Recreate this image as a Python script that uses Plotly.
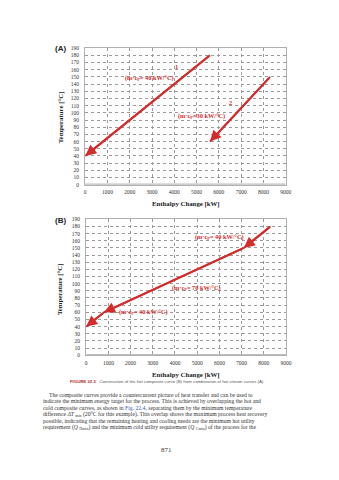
import plotly.graph_objects as go

# ---------------- data ----------------
temp_ticks = list(range(0, 200, 10))
enth_ticks = list(range(0, 10000, 1000))

# Panel A: individual hot streams (start -> end, arrow at end)
a1_h = [5600, 0]
a1_t = [180, 40]
a2_h = [8300, 5600]
a2_t = [150, 60]

# Panel B: hot composite curve
b_h = [8300, 7100, 800, 0]
b_t = [180, 150, 60, 40]

labels_a = [("1", 4090, 165), ("(m·c<sub>P</sub>= 40 kW/°C)", 2890, 149),
            ("2", 6520, 115), ("(m·c<sub>P</sub>=30 kW/°C)", 5230, 96)]
labels_b = [("(m·c<sub>P</sub>= 40 kW/°C)", 6010, 165),
            ("(m·c<sub>P</sub>= 70 kW/°C)", 4970, 94),
            ("(m·c<sub>P</sub>= 40 kW/°C)", 2580, 60)]

body_lines = [
    "The composite curves provide a countercurrent picture of heat transfer and can be used to",
    "indicate the minimum energy target for the process. This is achieved by overlapping the hot and",
    "cold composite curves, as shown in <span style='color:#3a55c8'>Fig. 22.4</span>, separating them by the minimum temperature",
    "difference <i>ΔT</i> <sub>min</sub> (20°C for this example). This overlap shows the maximum process heat recovery",
    "possible, indicating that the remaining heating and cooling needs are the minimum hot utility",
    "requirement (<i>Q</i> <sub>Hmin</sub>) and the minimum cold utility requirement (<i>Q</i> <sub>Cmin</sub>) of the process for the",
]

RED = "#d42b2b"
SERIF = "Liberation Serif"
W, H = 339, 480

def py(px):
    return 1 - px / H

def pxx(px):
    return px / W

fig = go.Figure()
ann = []

def add_curve(xs, ys, xa, ya):
    fig.add_trace(go.Scatter(
        x=xs, y=ys, mode="lines", xaxis=xa, yaxis=ya,
        line=dict(color=RED, width=2),
        showlegend=False, hoverinfo="skip"))
    # arrowheads at every point after the first
    for i in range(1, len(xs)):
        ann.append(dict(x=xs[i], y=ys[i], ax=xs[i - 1], ay=ys[i - 1],
                        xref=xa, yref=ya, axref=xa, ayref=ya, text="",
                        showarrow=True, arrowhead=2, arrowsize=1.1,
                        arrowwidth=2, arrowcolor=RED))

add_curve(a1_h, a1_t, "x", "y")
add_curve(a2_h, a2_t, "x", "y")
add_curve(b_h, b_t, "x2", "y2")

axis_common = dict(
    showgrid=True, gridcolor="#9a9a9a", griddash="dot", gridwidth=1,
    showline=True, linecolor="#b0b0b0", linewidth=1, mirror=True,
    ticks="", zeroline=False,
    tickfont=dict(family=SERIF, size=5.5, color="#333333"),
)

fig.update_layout(
    width=W, height=H, margin=dict(l=0, r=0, t=0, b=0),
    paper_bgcolor="white", plot_bgcolor="white",
    xaxis=dict(domain=[pxx(86), pxx(290.7)], range=[0, 9000], tickvals=enth_ticks,
               anchor="y", ticklabelstandoff=2, **axis_common),
    yaxis=dict(domain=[py(184), py(45.7)], range=[0, 190], tickvals=temp_ticks,
               anchor="x", ticklabelstandoff=4, **axis_common),
    xaxis2=dict(domain=[pxx(87), pxx(291)], range=[0, 9000], tickvals=enth_ticks,
                anchor="y2", ticklabelstandoff=2, **axis_common),
    yaxis2=dict(domain=[py(356.7), py(219)], range=[0, 190], tickvals=temp_ticks,
                anchor="x2", ticklabelstandoff=4, **axis_common),
)

# thicker gray bottom line at T = 0
for ya, xa in (("y", "x"), ("y2", "x2")):
    fig.add_shape(type="line", xref=xa, yref=ya, x0=0, x1=9000, y0=0, y1=0,
                  line=dict(color="#bdbdbd", width=2.5), layer="below")

C = dict(xanchor="center", yanchor="middle", showarrow=False)

for txt, x, y in labels_a:
    ann.append(dict(text="<b>" + txt + "</b>", x=x, y=y, xref="x", yref="y",
                    font=dict(family=SERIF, size=6.3, color=RED), **C))
for txt, x, y in labels_b:
    ann.append(dict(text="<b>" + txt + "</b>", x=x, y=y, xref="x2", yref="y2",
                    font=dict(family=SERIF, size=6.3, color=RED), **C))

# panel letters
ann.append(dict(text="<b>(A)</b>", x=pxx(60.5), y=py(46), xref="paper", yref="paper",
                font=dict(family="Liberation Sans", size=8, color="#222"), **C))
ann.append(dict(text="<b>(B)</b>", x=pxx(60.5), y=py(220), xref="paper", yref="paper",
                font=dict(family="Liberation Sans", size=8, color="#222"), **C))

# axis titles
for yc in (py(116), py(290)):
    ann.append(dict(text="<b>Temperature [°C]</b>", x=pxx(61), y=yc, xref="paper", yref="paper",
                    textangle=-90, font=dict(family=SERIF, size=6.8, color="#222"), **C))
for yc in (py(204), py(377)):
    ann.append(dict(text="<b>Enthalpy Change [kW]</b>", x=pxx(189), y=yc, xref="paper", yref="paper",
                    font=dict(family=SERIF, size=6.8, color="#222"), **C))

# caption
ann.append(dict(text="<b><span style='color:#b03030'>FIGURE 22.2</span></b>   Construction of the hot composite curve (B) from combination of hot stream curves (A).",
                x=pxx(68), y=py(383.5), xref="paper", yref="paper", xanchor="left", yanchor="middle",
                showarrow=False, font=dict(family="Liberation Sans", size=4.3, color="#555")))

# body text
ys_body = [397, 403.5, 410, 416.5, 423, 429.5]
for i, (line, yp) in enumerate(zip(body_lines, ys_body)):
    ann.append(dict(text=line, x=pxx(47 if i == 0 else 41), y=py(yp), xref="paper", yref="paper",
                    xanchor="left", yanchor="middle", showarrow=False,
                    font=dict(family=SERIF, size=5.7, color="#333")))

ann.append(dict(text="871", x=pxx(169), y=py(453), xref="paper", yref="paper",
                font=dict(family=SERIF, size=7, color="#333"), **C))

fig.update_layout(annotations=ann)
fig.write_html("out.html")
